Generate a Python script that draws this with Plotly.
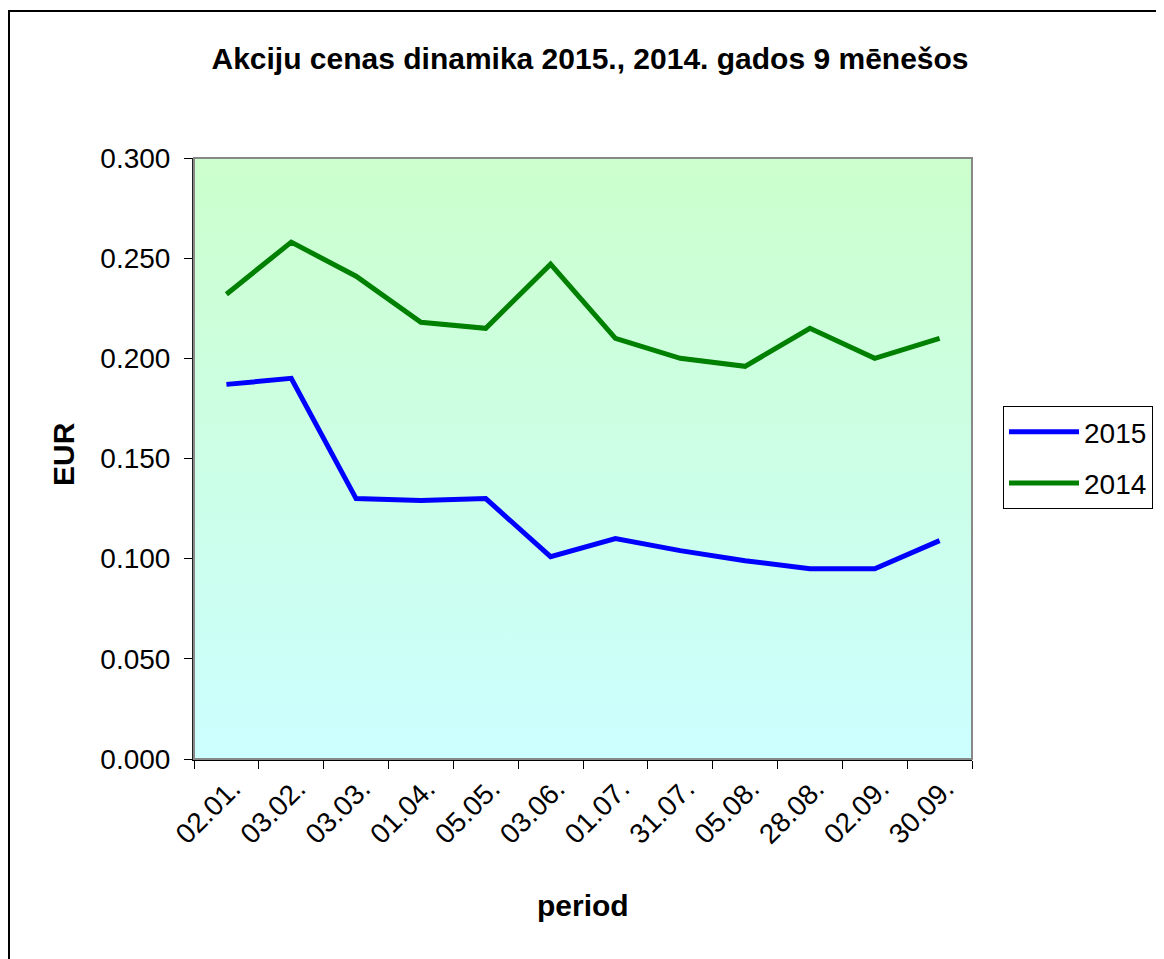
import plotly.graph_objects as go

categories = ["02.01.", "03.02.", "03.03.", "01.04.", "05.05.", "03.06.",
              "01.07.", "31.07.", "05.08.", "28.08.", "02.09.", "30.09."]
values_2015 = [0.187, 0.190, 0.130, 0.129, 0.130, 0.101,
               0.110, 0.104, 0.099, 0.095, 0.095, 0.109]
values_2014 = [0.232, 0.258, 0.241, 0.218, 0.215, 0.247,
               0.210, 0.200, 0.196, 0.215, 0.200, 0.210]
y_ticks = [0.0, 0.05, 0.10, 0.15, 0.20, 0.25, 0.30]

FONT = "Arial, Liberation Sans, sans-serif"
W, H = 1164, 959
OFF = 8  # page body margin
# plot area in page pixels
PX0, PX1, PY0, PY1 = 194, 972, 158, 759
L, T = PX0 - OFF, PY0 - OFF
R, B = W - (PX1 - OFF), H - (PY1 - OFF)
pw, ph = PX1 - PX0, PY1 - PY0


def px(xp):
    return (xp - PX0) / pw


def py(yp):
    return (PY1 - yp) / ph


xs = list(range(len(categories)))
xmin, xmax = -0.5, len(categories) - 0.5
ymin, ymax = y_ticks[0], y_ticks[-1]

fig = go.Figure()

fig.add_trace(go.Scatter(
    x=[xmin, xmax, xmax, xmin, xmin], y=[ymin, ymin, ymax, ymax, ymin],
    mode="lines", fill="toself", line=dict(width=0),
    fillgradient=dict(type="vertical", colorscale=[[0, "#CCFFFF"], [1, "#CCFFCC"]]),
    showlegend=False, hoverinfo="skip"))

fig.add_trace(go.Scatter(x=xs, y=values_2015, name="2015", mode="lines",
                         line=dict(color="#0000FF", width=5), legendgroup="a"))
fig.add_trace(go.Scatter(x=xs, y=values_2014, name="2014", mode="lines",
                         line=dict(color="#008000", width=5), legendgroup="b"))

fig.update_layout(
    width=W, height=H,
    margin=dict(l=L, r=R, t=T, b=B, autoexpand=False),
    paper_bgcolor="white", plot_bgcolor="white",
    font=dict(family=FONT, size=28, color="black"),
    title=dict(text="<b>Akciju cenas dinamika 2015., 2014. gados 9 mēnešos</b>",
               x=(590 - OFF) / W, y=1 - (58 - OFF) / H, xanchor="center", yanchor="middle",
               xref="container", yref="container",
               font=dict(family=FONT, size=30, color="black")),
    legend=dict(x=px(1003), y=py(406), xanchor="left", yanchor="top",
                bgcolor="white", bordercolor="black", borderwidth=1,
                font=dict(family=FONT, size=28), traceorder="grouped",
                tracegroupgap=12, itemwidth=70),
    showlegend=True,
)

fig.update_xaxes(
    range=[xmin, xmax], tickmode="array", tickvals=xs, ticktext=categories,
    tickangle=-45, ticks="outside", ticklen=0, tickcolor="rgba(0,0,0,0)",
    ticklabelshift=6,
    showgrid=False, zeroline=False, showline=True, linecolor="black", linewidth=2,
    minor=dict(tick0=xmin, dtick=1, ticks="outside", ticklen=8,
               tickcolor="black", tickwidth=1, showgrid=False),
    tickfont=dict(family=FONT, size=28),
)
fig.update_yaxes(
    range=[ymin, ymax], tickmode="array", tickvals=y_ticks,
    ticktext=[f"{v:.3f}" for v in y_ticks],
    ticks="outside", ticklen=8, tickcolor="black", ticklabelstandoff=8,
    showgrid=True, gridcolor="#222222", gridwidth=1, zeroline=False,
    showline=True, linecolor="#222222", linewidth=2,
    tickfont=dict(family=FONT, size=28),
)

fig.add_shape(type="rect", xref="paper", yref="paper", x0=0, x1=1, y0=0, y1=1,
              line=dict(color="#888888", width=2), layer="above")
fig.add_shape(type="rect", xref="paper", yref="paper",
              x0=px(9), x1=px(W + 30), y0=py(H + 30), y1=py(11),
              line=dict(color="black", width=2), layer="above")

fig.add_annotation(text="<b>EUR</b>", xref="paper", yref="paper",
                   x=px(63), y=py(454), textangle=-90,
                   showarrow=False, font=dict(family=FONT, size=30),
                   xanchor="center", yanchor="middle")
fig.add_annotation(text="<b>period</b>", xref="paper", yref="paper",
                   x=px(583), y=py(905),
                   showarrow=False, font=dict(family=FONT, size=30),
                   xanchor="center", yanchor="middle")

fig.write_html("out.html")
